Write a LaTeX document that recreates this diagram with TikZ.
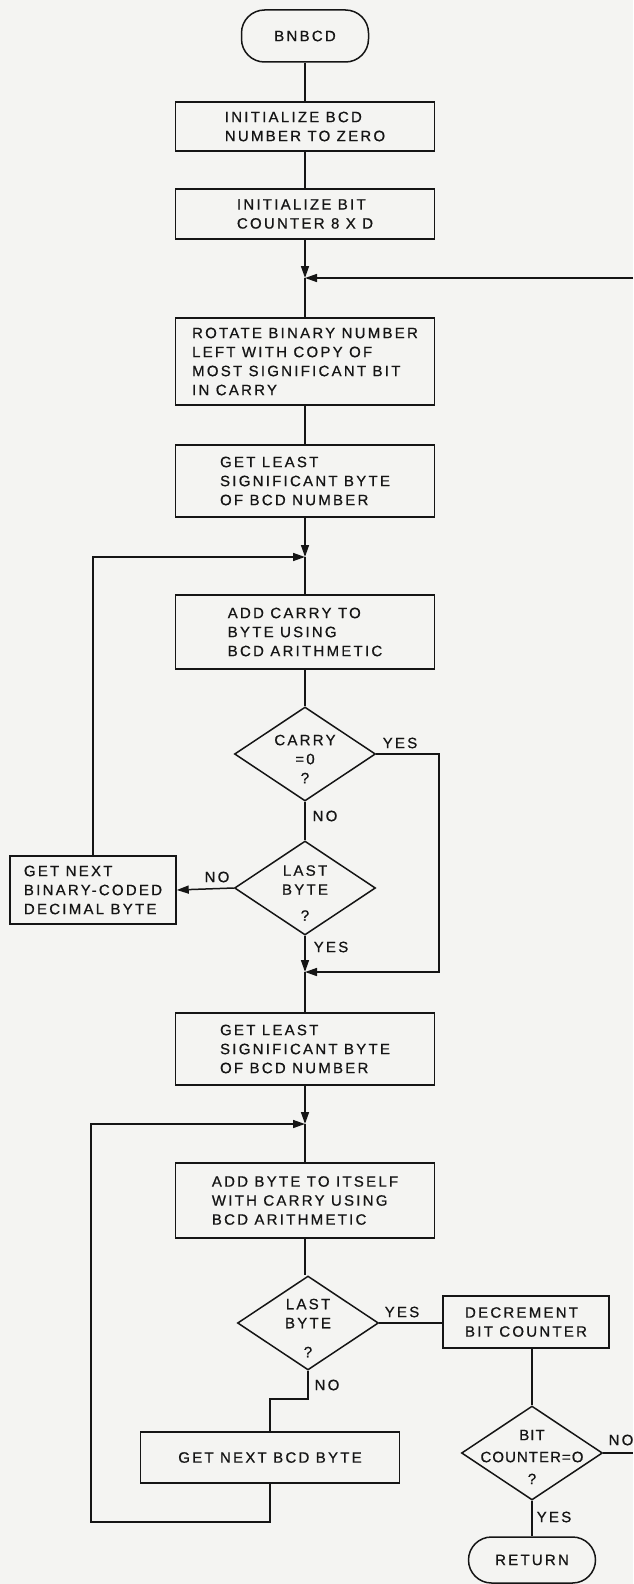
\documentclass[tikz,border=0pt]{standalone}
\usepackage{fontspec}
\newfontfamily\chartfont[LetterSpace=15,FakeBold=0.7]{Liberation Sans}
\usetikzlibrary{arrows.meta,calc,positioning,shapes.geometric}
\definecolor{ChartInk}{HTML}{151515}
\definecolor{ChartPaper}{HTML}{F4F4F2}
\tikzset{
  every node/.style={font=\chartfont\fontsize{15}{19}\selectfont, text=ChartInk},
  procbox/.style={draw=ChartInk, line width=1.5pt, rectangle, align=left, minimum width=259pt, inner sep=0pt},
  decision/.style={draw=ChartInk, line width=1.5pt, diamond, minimum width=141pt, minimum height=94pt, inner sep=0pt},
  terminal/.style={draw=ChartInk, line width=1.5pt, rounded corners=23pt, minimum width=127pt, minimum height=46pt},
  link/.style={draw=ChartInk, line width=1.5pt},
  flow/.style={-{Triangle[length=12pt,width=8pt]}, draw=ChartInk, line width=1.5pt},
  tag/.style={inner sep=0pt},
}

\begin{document}
\begin{tikzpicture}[x=1pt,y=-1pt]
  \useasboundingbox (0,0) rectangle (633,1584);
  \fill[ChartPaper] (0,0) rectangle (633,1584);
  % main column, top half
  \node[terminal, minimum height=52pt] (start) at (305,36) {BNBCD};
  \node[procbox, minimum height=49pt] (init) at (305,126.5) {INITIALIZE BCD\\NUMBER TO ZERO};
  \node[procbox, minimum height=50pt] (count) at (305,214) {INITIALIZE BIT\\COUNTER 8 X D};
  \node[procbox, minimum height=87pt] (rotate) at (305,361.5) {ROTATE BINARY NUMBER\\LEFT WITH COPY OF\\MOST SIGNIFICANT BIT\\IN CARRY};
  \node[procbox, minimum height=72pt] (lsbA) at (305,481) {GET LEAST\\SIGNIFICANT BYTE\\OF BCD NUMBER};
  \node[procbox, minimum height=74pt] (addc) at (305,632) {ADD CARRY TO\\BYTE USING\\BCD ARITHMETIC};
  \node[decision, label={[align=center, yshift=-5pt]center:{CARRY\\=0\\?}}] (iszero) at (305,754) {};
  \node[decision, label={[align=center, yshift=-5pt]center:{LAST\\BYTE\\[7pt]?}}] (lastA) at (305,888) {};
  \node[procbox, minimum width=166pt, minimum height=68pt] (nextbcd) at (93,890) {GET NEXT\\BINARY-CODED\\DECIMAL BYTE};
  % main column, bottom half
  \node[procbox, minimum height=72pt] (lsbB) at (305,1049) {GET LEAST\\SIGNIFICANT BYTE\\OF BCD NUMBER};
  \node[procbox, minimum height=75pt] (dbl) at (305,1200.5) {ADD BYTE TO ITSELF\\WITH CARRY USING\\BCD ARITHMETIC};
  \node[decision, label={[align=center, yshift=-5pt]center:{LAST\\BYTE\\[10pt]?}}] (lastB) at (308,1323) {};
  \node[procbox, minimum width=166pt, minimum height=52pt] (dec) at (526,1322) {DECREMENT\\BIT COUNTER};
  \node[procbox, minimum height=51pt] (nextbyte) at (270,1457.5) {GET NEXT BCD BYTE};
  \node[decision, label={[align=center, yshift=-4pt, font=\chartfont\addfontfeature{LetterSpace=7}\fontsize{15}{19}\selectfont]center:{BIT\\[3pt]COUNTER=O\\[3pt]?}}] (done) at (532,1453) {};
  \node[terminal] (ret) at (532,1560) {RETURN};
  % junctions and free ends
  \coordinate (J1) at (305,278);
  \coordinate (J2) at (305,557);
  \coordinate (J3) at (305,972);
  \coordinate (J4) at (305,1124);
  \coordinate (rtop) at (633,278);
  \coordinate (rbot) at (633,1453);
  \coordinate (skipA) at (439,972);
  \coordinate (jogB) at (308,1399);
  \coordinate (loopB) at (91,1522);
  % connectors
  \draw[link] (start) -- (init);
  \draw[link] (init) -- (count);
  \draw[flow] (count.south) -- (J1);
  \draw[flow] (rtop) -- (J1);
  \draw[link] (J1) -- (rotate.north);
  \draw[link] (rotate) -- (lsbA);
  \draw[flow] (lsbA.south) -- (J2);
  \draw[link] (J2) -- (addc.north);
  \draw[link] (addc) -- (iszero);
  \draw[link] (iszero) -- (lastA);
  \draw[flow] (iszero.east) -| (skipA) -- (J3);
  \draw[flow] (lastA.west) -- (nextbcd.east);
  \draw[flow] (nextbcd.north) |- (J2);
  \draw[flow] (lastA.south) -- (J3);
  \draw[link] (J3) -- (lsbB.north);
  \draw[flow] (lsbB.south) -- (J4);
  \draw[link] (J4) -- (dbl.north);
  \draw[link] (dbl.south) -- (dbl.south |- lastB.north);
  \draw[link] (lastB.east) -- (lastB.east -| dec.west);
  \draw[link] (lastB.south) -- (jogB) -| (nextbyte.north);
  \draw[flow] (nextbyte.south) |- (loopB) |- (J4);
  \draw[link] (dec.south -| done) -- (done.north);
  \draw[link] (done.east) -- (rbot);
  \draw[link] (done) -- (ret);
  % branch tags
  \node[tag] (yesA) at (400,743) {YES};
  \node[tag] (noA) at (325,816) {NO};
  \node[tag] (noB) at (217,877) {NO};
  \node[tag] (yesB) at (331,947) {YES};
  \node[tag] (yesC) at (402,1312) {YES};
  \node[tag] (noC) at (327,1385) {NO};
  \node[tag] (noD) at (621,1440) {NO};
  \node[tag] (yesD) at (554,1517) {YES};
\end{tikzpicture}
\end{document}
